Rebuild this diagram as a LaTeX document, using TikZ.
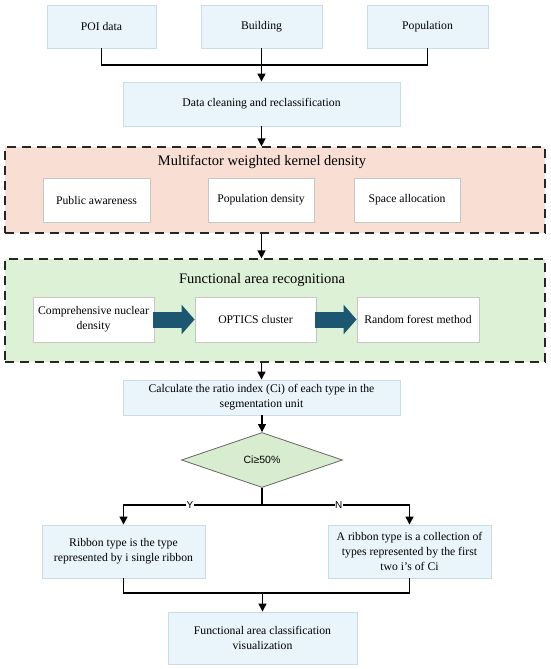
\documentclass[tikz,border=0pt]{standalone}
\usepackage{fontspec}
\setmainfont{Liberation Serif}
\newfontfamily\labelfont{Liberation Sans}
\usetikzlibrary{arrows.meta,positioning}
\usetikzlibrary{shapes.geometric}

\definecolor{boxblue}{HTML}{EAF5FB}
\definecolor{edgeblue}{HTML}{C9DDE8}
\definecolor{framepink}{HTML}{F9DED4}
\definecolor{framegreen}{HTML}{DDF1D6}
\definecolor{decgreen}{HTML}{D8EDD0}
\definecolor{bigarrow}{HTML}{1D5670}

\begin{document}
\begin{tikzpicture}[
    x=1pt, y=-1pt,
    font=\fontsize{11.7}{14.8}\selectfont,
    blue box/.style={draw=edgeblue, fill=boxblue, line width=0.9pt,
        align=center, inner sep=2pt},
    white box/.style={draw=black!22, fill=white, line width=0.9pt,
        align=center, inner sep=2pt},
    frame/.style={draw=black!85, line width=1.2pt, dash pattern=on 9pt off 6pt},
    title/.style={font=\fontsize{14.5}{16}\selectfont},
    line/.style={draw=black, line width=1.3pt},
    arr/.style={line, -{Triangle[length=8pt,width=8pt]}},
    fat arrow/.style={draw=bigarrow, line width=16pt,
        -{Triangle[length=13pt,width=29pt]}, shorten <=-1pt},
    lab/.style={font=\labelfont\fontsize{10}{11}\selectfont, fill=white,
        inner sep=0.5pt},
]
\useasboundingbox (0,0) rectangle (550,669);

% input data
\node[blue box, minimum width=109pt, minimum height=43pt] (poi) at (101.5,26.5) {POI data};
\node[blue box, minimum width=121pt, minimum height=43pt] (bld) at (261.5,26.5) {Building};
\node[blue box, minimum width=121pt, minimum height=43pt] (pop) at (427.5,26.5) {Population};

\node[blue box, minimum width=277pt, minimum height=44pt] (clean) at (261.5,104) {Data cleaning and reclassification};

% kernel density
\node[frame, fill=framepink, minimum width=540pt, minimum height=86pt] (kd) at (275,190) {};
\node[title] (kdtitle) at (262,162) {Multifactor weighted kernel density};
\node[white box, minimum width=107pt, minimum height=44pt] (aware) at (96.5,200) {Public awareness};
\node[white box, minimum width=106pt, minimum height=44pt] (pdens) at (261,200) {Population density};
\node[white box, minimum width=106pt, minimum height=44pt] (space) at (407,200) {Space allocation};

% recognition
\node[frame, fill=framegreen, minimum width=540pt, minimum height=103pt] (far) at (275,310.5) {};
\node[title] (fartitle) at (262,280) {Functional area recognitiona};
\node[white box, minimum width=121pt, minimum height=45pt] (cnd) at (93.5,319.5) {Comprehensive nuclear\\density};
\node[white box, minimum width=121pt, minimum height=45pt] (optics) at (255.5,319.5) {OPTICS cluster};
\node[white box, minimum width=122pt, minimum height=45pt] (rf) at (418,319.5) {Random forest method};

\node[blue box, minimum width=277pt, minimum height=35pt] (calc) at (261.5,397.5)
    {Calculate the ratio index (Ci) of each type in the\\segmentation unit};

\node[diamond, draw=black!60, fill=decgreen, line width=0.8pt, inner sep=0pt,
    minimum width=161pt, minimum height=55pt, font=\labelfont\fontsize{10.5}{12}\selectfont]
    (dec) at (262,460) {Ci≥50\%};

\node[blue box, minimum width=163pt, minimum height=53pt] (single) at (123.5,551.5)
    {Ribbon type is the type\\represented by i single ribbon};
\node[blue box, minimum width=163pt, minimum height=53pt] (multi) at (409.5,551.5)
    {A ribbon type is a collection of\\types represented by the first\\two i's of Ci};

\node[blue box, minimum width=189pt, minimum height=52pt] (vis) at (262.5,638)
    {Functional area classification\\visualization};

% connectors
\coordinate (j1) at (261.5,65);
\draw[line] (poi.south) |- (j1);
\draw[line] (pop.south) |- (j1);
\draw[arr] (bld.south) -- (clean.north);
\draw[arr] (clean.south) -- (kd.north -| clean.south);
\draw[arr] (kd.south -| clean.south) -- (far.north -| clean.south);
\draw[arr] (far.south -| clean.south) -- (calc.north);
\draw[arr] (calc.south -| dec.north) -- (dec.north);

\draw[fat arrow] (cnd.east) -- (optics.west);
\draw[fat arrow] (optics.east) -- (rf.west);

\draw[line] (dec.south) -- ++(0,17) coordinate (split);
\draw[arr] (split) -| node[pos=0.26, lab] {Y} (single.north);
\draw[arr] (split) -| node[pos=0.26, lab] {N} (multi.north);

\coordinate (j2) at (262.5,593);
\draw[line] (single.south) |- (j2);
\draw[line] (multi.south) |- (j2);
\draw[arr] (j2) -- (vis.north);
\end{tikzpicture}
\end{document}
